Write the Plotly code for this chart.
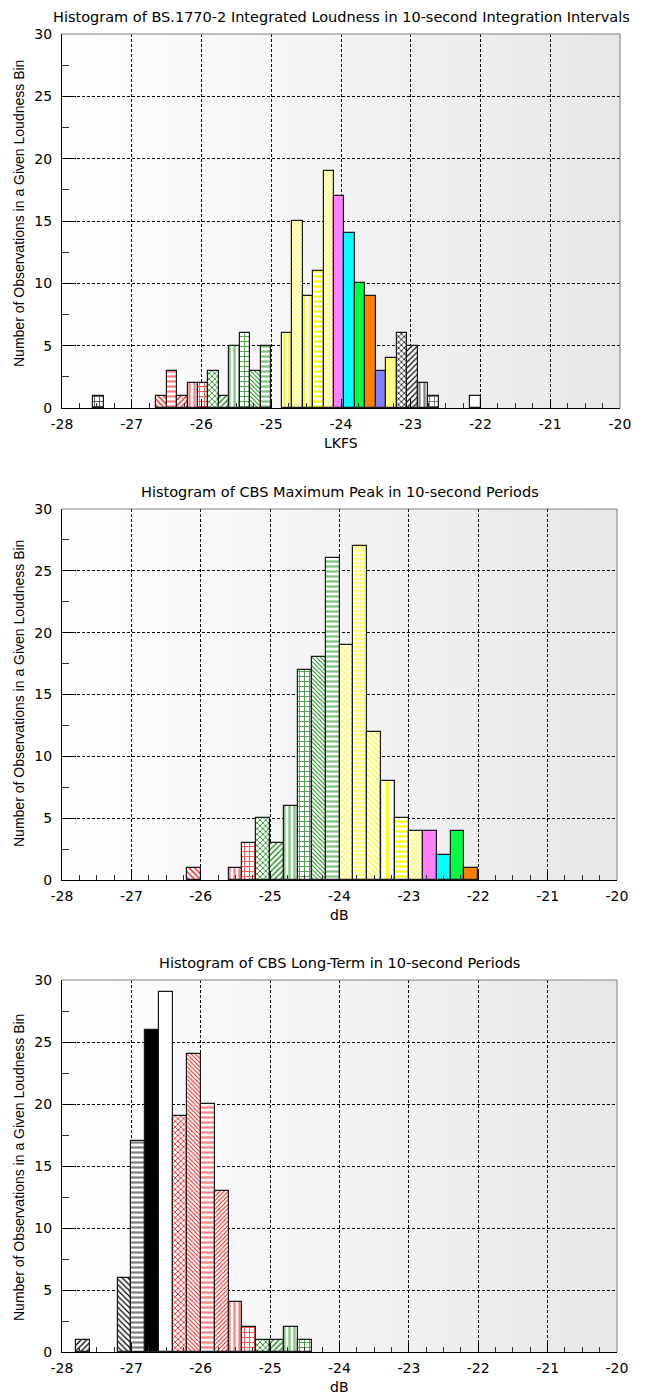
import plotly.graph_objects as go

# ---------------- data ----------------
bin_start = -28.0
bin_width1 = 0.15
counts1 = [0, 0, 0, 1, 0, 0, 0, 0, 0,
           1, 3, 1, 2, 2, 3, 1, 5, 6, 3, 5,
           0,
           6, 15, 9, 11, 19, 17, 14, 10, 9, 3, 4, 6, 5, 2, 1,
           0, 0, 0, 1]
bin_width2 = 0.2
counts2 = [0, 0, 0, 0, 0, 0, 0, 0, 0,
           1, 0, 0, 1, 3, 5, 3, 6, 17, 18, 26, 19, 27, 12, 8, 5, 4, 4, 2, 4, 1]
bin_width3 = 0.2
counts3 = [0, 1, 0, 0, 6, 17, 26, 29, 19, 24, 20, 13, 4, 2, 1, 1, 2, 1]

titles = [
    "Histogram of BS.1770-2 Integrated Loudness in 10-second Integration Intervals",
    "Histogram of CBS Maximum Peak in 10-second Periods",
    "Histogram of CBS Long-Term in 10-second Periods",
]
x_titles = ["LKFS", "dB", "dB"]
y_title = "Number of Observations in a Given Loudness Bin"
x_tick_vals = [-28, -27, -26, -25, -24, -23, -22, -21, -20]
x_tick_text = ["-28", "-27", "-26", "-25", "-24", "-23", "-22", "-21", "-20"]
y_tick_vals = [0, 5, 10, 15, 20, 25, 30]

# ---------------- styles (one entry per non-empty bar) ----------------
W = "#ffffff"
R, RL, RG = "#ff0000", "#ff8080", "#ff5050"
G, GL, GG = "#008000", "#7cc47c", "#50a050"
Y = "#ffff00"
K, GR = "#000000", "#808080"


def solid(c):
    return ("-", c, c, 5, 0.5)


# (shape, fg, bg, size, solidity)
styles1 = [
    ("+", "#404040", W, 5, 0.3),
    ("\\", R, W, 4, 0.3), ("-", RL, W, 5, 0.45), ("/", R, W, 4, 0.3),
    ("|", RL, W, 5, 0.45), ("+", RG, W, 5, 0.35),
    ("x", G, W, 4, 0.35), ("/", G, W, 4, 0.3), ("|", GL, W, 5, 0.45),
    ("+", GG, W, 5, 0.35), ("\\", G, W, 3, 0.3), ("-", GL, W, 5, 0.45),
    ("|", Y, W, 5, 0.45), ("\\", Y, W, 3, 0.3), ("|", Y, W, 7, 0.4),
    ("-", Y, W, 5, 0.45), ("/", Y, W, 3, 0.3),
    solid("#ff80ff"), solid("#00ffff"), solid("#00ff40"), solid("#ff8000"),
    solid("#8080ff"), solid("#ffff80"),
    ("x", K, W, 4, 0.35), ("/", K, W, 4, 0.3), ("|", GR, W, 5, 0.45),
    ("+", "#606060", W, 5, 0.3),
    solid(W),
]
styles2 = [
    ("\\", R, W, 4, 0.3), ("|", RL, W, 5, 0.45), ("+", RG, W, 5, 0.35),
    ("x", G, W, 4, 0.35), ("/", G, W, 4, 0.3), ("|", GL, W, 5, 0.45),
    ("+", GG, W, 5, 0.35), ("\\", G, W, 3, 0.3), ("-", GL, W, 5, 0.45),
    ("x", Y, W, 4, 0.35), ("+", Y, W, 4, 0.35), ("\\", Y, W, 4, 0.3),
    ("|", Y, W, 7, 0.4), ("-", Y, W, 5, 0.45), ("/", Y, W, 3, 0.3),
    solid("#ff80ff"), solid("#00ffff"), solid("#00ff40"), solid("#ff8000"),
]
styles3 = [
    ("/", K, W, 4, 0.3), ("\\", K, W, 4, 0.3), ("-", GR, W, 5, 0.45),
    solid(K), solid(W),
    ("x", R, W, 4, 0.35), ("\\", R, W, 3, 0.3), ("-", RL, W, 5, 0.45),
    ("/", R, W, 3, 0.3), ("|", RL, W, 5, 0.45), ("+", RG, W, 5, 0.35),
    ("x", G, W, 4, 0.35), ("/", G, W, 4, 0.3), ("|", GL, W, 5, 0.45),
    ("+", GG, W, 5, 0.35),
]

FONT = "Liberation Sans, Arial, sans-serif"
WIDE = "DejaVu Sans, Verdana, sans-serif"

# page geometry
FIG_W, FIG_H = 649, 1399
ML, MR, MT, MB = 62, 29, 34, 47
PLOT_H = FIG_H - MT - MB
PLOT_W = FIG_W - ML - MR


def py(px):
    """pixel row -> paper y"""
    return (FIG_H - MB - px) / PLOT_H


def pxx(px):
    return (px - ML) / PLOT_W


panel_px = [(34, 408), (509, 880), (980, 1352)]
x_right = [1.0, (617 - ML) / PLOT_W, (617 - ML) / PLOT_W]
ytitle_center = [214, 694, 1168]

fig = go.Figure()

for n, (counts, bw, styles) in enumerate(
        [(counts1, bin_width1, styles1),
         (counts2, bin_width2, styles2),
         (counts3, bin_width3, styles3)], start=1):
    xs, ys = [], []
    for i, c in enumerate(counts):
        if c > 0:
            xs.append(bin_start + (i + 0.5) * bw)
            ys.append(c)
    fig.add_trace(go.Bar(
        x=xs, y=ys, width=bw,
        xaxis="x" if n == 1 else f"x{n}",
        yaxis="y" if n == 1 else f"y{n}",
        marker=dict(
            color="#ffffff",
            line=dict(color="#1a1a1a", width=1.2),
            pattern=dict(shape=[s[0] for s in styles],
                         fgcolor=[s[1] for s in styles],
                         bgcolor=[s[2] for s in styles],
                         size=[s[3] for s in styles],
                         solidity=[s[4] for s in styles],
                         fillmode="replace"),
        ),
        hoverinfo="x+y",
    ))

layout = dict(
    width=FIG_W, height=FIG_H,
    margin=dict(l=ML, r=MR, t=MT, b=MB),
    paper_bgcolor="#ffffff", plot_bgcolor="#ffffff",
    showlegend=False, bargap=0,
    font=dict(family=FONT, size=14, color="#000000"),
)

shapes_all = []
annotations = []
N_STRIPS = 70
for n in range(1, 4):
    top_px, bot_px = panel_px[n - 1]
    xa = "xaxis" if n == 1 else f"xaxis{n}"
    ya = "yaxis" if n == 1 else f"yaxis{n}"
    xref = "x" if n == 1 else f"x{n}"
    yref = "y" if n == 1 else f"y{n}"
    layout[xa] = dict(
        domain=[0, x_right[n - 1]], anchor=yref,
        range=[-28, -20], tickvals=x_tick_vals, ticktext=x_tick_text,
        ticks="inside", ticklen=9, tickcolor="#000000", tickwidth=1,
        showline=True, linecolor="#000000", linewidth=1,
        showgrid=True, gridcolor="#000000", gridwidth=1, griddash="3px,2px",
        zeroline=False, tickfont=dict(size=14, family=WIDE),
        ticklabelstandoff=3,
        minor=dict(dtick=0.25, tick0=-28, ticks="inside", ticklen=5,
                   tickcolor="#303030", tickwidth=1, showgrid=False),
        fixedrange=True,
    )
    layout[ya] = dict(
        domain=[py(bot_px), py(top_px)], anchor=xref,
        range=[0, 30], tickvals=y_tick_vals,
        ticks="inside", ticklen=14, tickcolor="#000000", tickwidth=1,
        showline=True, linecolor="#000000", linewidth=1,
        showgrid=True, gridcolor="#000000", gridwidth=1, griddash="3px,2px",
        zeroline=False, tickfont=dict(size=14, family=WIDE),
        ticklabelstandoff=6,
        minor=dict(dtick=2.5, tick0=0, ticks="inside", ticklen=7,
                   tickcolor="#303030", tickwidth=1, showgrid=False),
        fixedrange=True,
    )
    # background gradient (white -> light grey)
    for s in range(N_STRIPS):
        t = (s + 0.5) / N_STRIPS
        v = int(round(255 - 24 * t))
        shapes_all.append(dict(
            type="rect", xref=f"{xref} domain", yref=f"{yref} domain",
            x0=s / N_STRIPS, x1=(s + 1) / N_STRIPS + 0.001, y0=0, y1=1,
            fillcolor=f"rgb({v},{v},{v})", line=dict(width=0), layer="below",
        ))
    # grey top / right frame
    shapes_all.append(dict(type="line", xref=f"{xref} domain", yref=f"{yref} domain",
                           x0=0, x1=1, y0=1, y1=1,
                           line=dict(color="#808080", width=1), layer="above"))
    shapes_all.append(dict(type="line", xref=f"{xref} domain", yref=f"{yref} domain",
                           x0=1, x1=1, y0=0, y1=1,
                           line=dict(color="#808080", width=1), layer="above"))
    # titles
    cx = x_right[n - 1] / 2
    annotations.append(dict(text=titles[n - 1], xref="paper", yref="paper",
                            x=cx, y=py(top_px - 17), xanchor="center", yanchor="middle",
                            showarrow=False, font=dict(size=14.5, family=WIDE)))
    annotations.append(dict(text=x_titles[n - 1], xref="paper", yref="paper",
                            x=cx, y=py(bot_px + 35), xanchor="center", yanchor="middle",
                            showarrow=False, font=dict(size=14, family=WIDE)))
    annotations.append(dict(text=y_title, xref="paper", yref="paper",
                            x=pxx(19), y=py(ytitle_center[n - 1]),
                            xanchor="center", yanchor="middle", textangle=-90,
                            showarrow=False, font=dict(size=14, family=FONT)))

layout["shapes"] = shapes_all
layout["annotations"] = annotations
fig.update_layout(**layout)

fig.write_html("out.html", config=dict(displayModeBar=False),
               post_script="document.body.style.margin='0px';")
